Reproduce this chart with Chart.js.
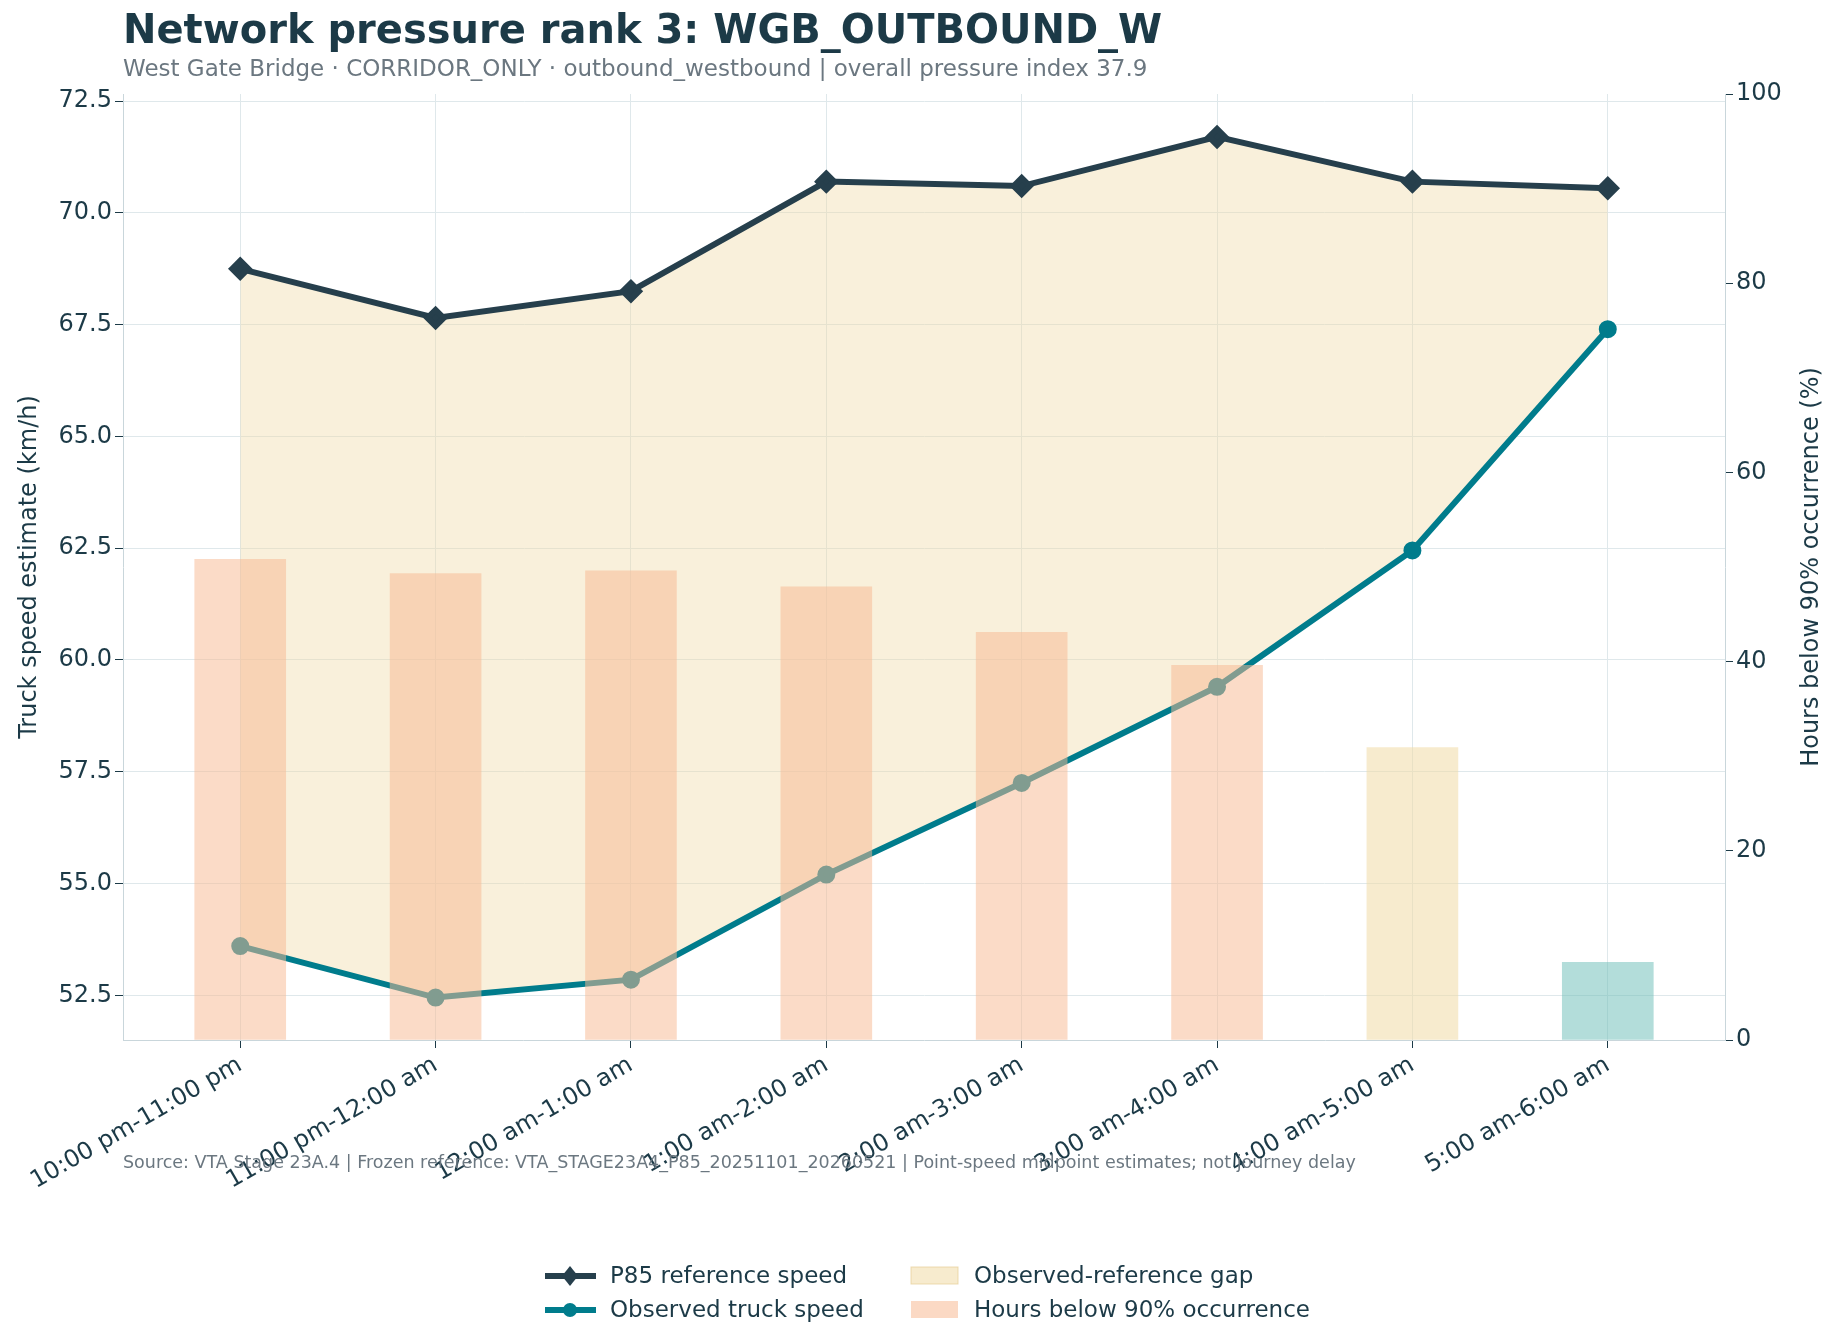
<!DOCTYPE html>
<html>
<head>
<meta charset="utf-8">
<script src="https://cdn.jsdelivr.net/npm/chart.js@4"></script>
<style>
  body { margin: 0; background: #fff; }
  #wrap { width: 1842px; height: 1344px; }
</style>
</head>
<body>
<div id="wrap"><canvas id="chart" width="1842" height="1344"></canvas></div>
<script>
const hours = ["10:00 pm-11:00 pm", "11:00 pm-12:00 am", "12:00 am-1:00 am", "1:00 am-2:00 am",
               "2:00 am-3:00 am", "3:00 am-4:00 am", "4:00 am-5:00 am", "5:00 am-6:00 am"];
const p85Speed = [68.75, 67.65, 68.25, 70.7, 70.6, 71.7, 70.7, 70.55];
const observedSpeed = [53.6, 52.45, 52.85, 55.2, 57.25, 59.4, 62.45, 67.4];
const hoursBelowPct = [50.8, 49.3, 49.6, 47.9, 43.1, 39.6, 30.9, 8.2];
const barColors = ["rgba(248,186,148,0.52)", "rgba(248,186,148,0.52)", "rgba(248,186,148,0.52)",
                   "rgba(248,186,148,0.52)", "rgba(248,186,148,0.52)", "rgba(248,186,148,0.52)",
                   "rgba(240,218,165,0.55)", "rgba(110,190,185,0.52)"];

const FONT = "'DejaVu Sans', sans-serif";
const dark = "#1c3a47";
const grid = "#dfe8eb";

const pts = arr => arr.map((v, i) => ({ x: i, y: v }));

const textPlugin = {
  id: "texts",
  afterDraw(chart) {
    const c = chart.ctx;
    c.save();
    c.textBaseline = "middle";
    c.fillStyle = dark;
    c.font = "bold 40px " + FONT;
    c.fillText("Network pressure rank 3: WGB_OUTBOUND_W", 123, 33);
    c.fillStyle = "#6b7780";
    c.font = "23px " + FONT;
    c.fillText("West Gate Bridge · CORRIDOR_ONLY · outbound_westbound | overall pressure index 37.9", 123, 70);
    c.font = "17.5px " + FONT;
    c.fillText("Source: VTA Stage 23A.4 | Frozen reference: VTA_STAGE23A4_P85_20251101_20260521 | Point-speed midpoint estimates; not journey delay", 123, 1163);
    // axis titles, reading bottom to top
    c.fillStyle = dark;
    c.font = "24px " + FONT;
    c.textAlign = "center";
    c.save();
    c.translate(30, 567);
    c.rotate(-Math.PI / 2);
    c.fillText("Truck speed estimate (km/h)", 0, 0);
    c.restore();
    c.save();
    c.translate(1812, 567);
    c.rotate(-Math.PI / 2);
    c.fillText("Hours below 90% occurrence (%)", 0, 0);
    c.restore();
    c.textAlign = "left";
    // legend
    c.font = "23px " + FONT;
    c.lineWidth = 6;
    c.strokeStyle = "#263f4c";
    c.beginPath(); c.moveTo(545, 1276); c.lineTo(596, 1276); c.stroke();
    c.fillStyle = "#263f4c";
    c.beginPath(); c.moveTo(570, 1266); c.lineTo(578, 1276); c.lineTo(570, 1286); c.lineTo(562, 1276); c.closePath(); c.fill();
    c.strokeStyle = "#007c8c";
    c.beginPath(); c.moveTo(545, 1310); c.lineTo(596, 1310); c.stroke();
    c.fillStyle = "#007c8c";
    c.beginPath(); c.arc(570, 1310, 7, 0, Math.PI * 2); c.fill();
    c.fillStyle = "rgba(240,218,165,0.55)";
    c.fillRect(911, 1267, 47, 17);
    c.strokeStyle = "rgba(230,205,150,0.7)"; c.lineWidth = 1;
    c.strokeRect(911, 1267, 47, 17);
    c.fillStyle = "rgba(248,186,148,0.55)";
    c.fillRect(911, 1301, 47, 17);
    c.fillStyle = dark;
    c.fillText("P85 reference speed", 610, 1277);
    c.fillText("Observed truck speed", 610, 1311);
    c.fillText("Observed-reference gap", 974, 1277);
    c.fillText("Hours below 90% occurrence", 974, 1311);
    c.restore();
  }
};

new Chart(document.getElementById("chart").getContext("2d"), {
  data: {
    datasets: [
      {
        type: "line", label: "P85 reference speed", data: pts(p85Speed), yAxisID: "y",
        borderColor: "#263f4c", borderWidth: 6, pointStyle: "rectRot", pointRadius: 8,
        pointBackgroundColor: "#263f4c", pointBorderColor: "#263f4c", fill: false, order: 1
      },
      {
        type: "line", label: "Observed truck speed", data: pts(observedSpeed), yAxisID: "y",
        borderColor: "#007c8c", borderWidth: 6, pointRadius: 6,
        pointBackgroundColor: "#007c8c", pointBorderColor: "#007c8c",
        backgroundColor: "rgba(240,218,165,0.4)", fill: "-1", order: 2
      },
      {
        type: "bar", label: "Hours below 90% occurrence", data: pts(hoursBelowPct), yAxisID: "y1",
        backgroundColor: barColors, barThickness: 91, order: 0
      }
    ]
  },
  options: {
    responsive: false, animation: false,
    layout: { padding: { top: 94, left: 0, right: 0, bottom: 0 } },
    plugins: { legend: { display: false }, tooltip: { enabled: false } },
    scales: {
      x: {
        type: "linear", min: -0.6, max: 7.6, offset: false,
        afterBuildTicks: s => { s.ticks = hours.map((h, i) => ({ value: i })); },
        afterFit: s => { s.height = 304; },
        grid: { color: grid, offset: false, tickLength: 8, tickColor: dark },
        border: { color: "#c9d6db" },
        ticks: { color: dark, font: { family: FONT, size: 24 }, maxRotation: 30, minRotation: 30,
                 align: "end", autoSkip: false, callback: v => hours[v] }
      },
      y: {
        position: "left", min: 51.5, max: 72.66,
        afterBuildTicks: s => { s.ticks = [52.5, 55, 57.5, 60, 62.5, 65, 67.5, 70, 72.5].map(v => ({ value: v })); },
        afterFit: s => { s.width = 123; },
        grid: { color: grid, tickLength: 8, tickColor: dark },
        border: { color: "#c9d6db" },
        ticks: { color: dark, font: { family: FONT, size: 24 }, callback: v => v.toFixed(1) }
      },
      y1: {
        position: "right", min: 0, max: 100,
        afterFit: s => { s.width = 117; },
        grid: { drawOnChartArea: false, tickLength: 8, tickColor: dark },
        border: { color: "#c9d6db" },
        ticks: { stepSize: 20, color: dark, font: { family: FONT, size: 24 } }
      }
    }
  },
  plugins: [textPlugin]
});
</script>
</body>
</html>
